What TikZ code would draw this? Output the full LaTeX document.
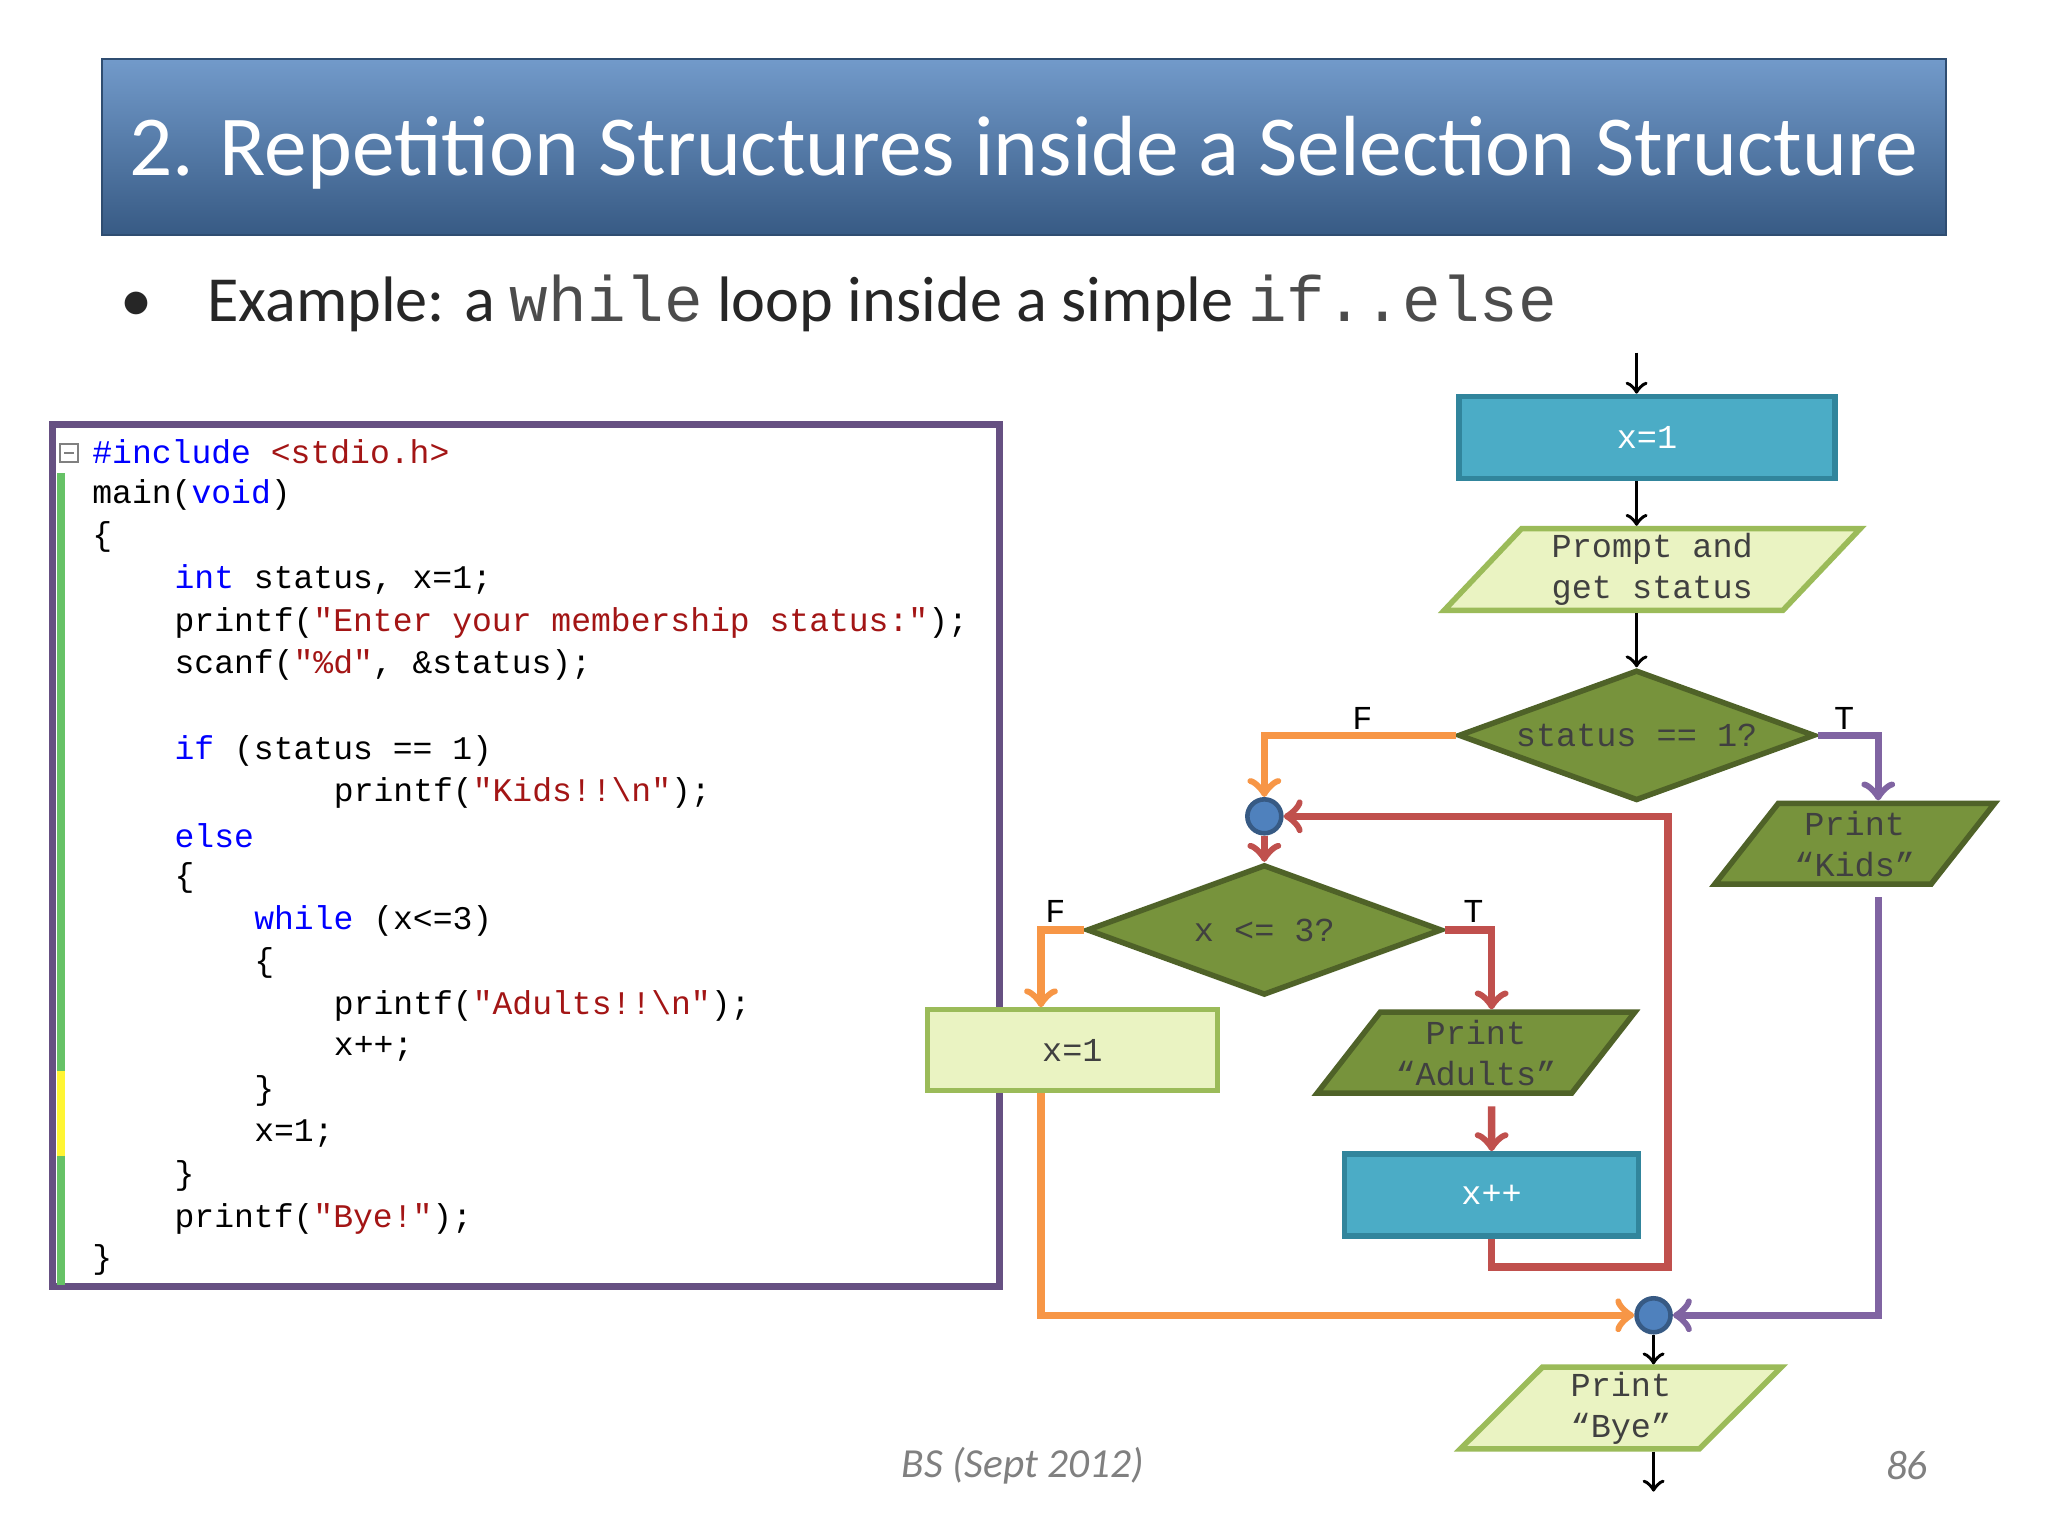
\documentclass[tikz,border=0pt]{standalone}
\usepackage{fontspec}
\setmainfont{Carlito}
\newfontfamily\codefont{Liberation Mono}
\usetikzlibrary{shapes.geometric}
\definecolor{kwblue}{HTML}{0000FF}
\definecolor{strred}{HTML}{A31515}
\definecolor{tealfill}{HTML}{4BACC6}
\definecolor{tealline}{HTML}{31859C}
\definecolor{olivefill}{HTML}{77933C}
\definecolor{oliveline}{HTML}{4F6228}
\definecolor{lightfill}{HTML}{EAF3C2}
\definecolor{lightline}{HTML}{9BBB59}
\definecolor{orangeln}{HTML}{F79646}
\definecolor{redln}{HTML}{C0504D}
\definecolor{purpleln}{HTML}{8064A2}
\definecolor{connfill}{HTML}{4F81BD}
\newcommand\kw[1]{\textcolor{kwblue}{#1}}
\newcommand\st[1]{\textcolor{strred}{#1}}
\tikzset{
  code/.style={anchor=west, inner sep=0pt, font=\codefont\fontsize{7.2pt}{8pt}\selectfont},
  chart/.style={align=center, font=\codefont\fontsize{7.3pt}{9pt}\selectfont, text=black!75},
  proc/.style={chart, draw=tealline, line width=1.2pt, fill=tealfill, text=white, minimum height=0.63cm},
  lproc/.style={chart, draw=lightline, line width=1pt, fill=lightfill, minimum height=0.62cm},
  io/.style={chart, trapezium, trapezium left angle=50, trapezium right angle=130, trapezium stretches=true, line width=1.2pt, minimum height=0.62cm, inner ysep=1pt},
  lio/.style={io, draw=lightline, fill=lightfill},
  dio/.style={io, draw=oliveline, fill=olivefill},
  dec/.style={chart, diamond, draw=oliveline, line width=1.2pt, fill=olivefill, aspect=2.7, inner sep=0pt},
  conn/.style={circle, draw=connfill!70!black, fill=connfill, line width=1pt, minimum size=0.26cm, inner sep=0pt},
  tf/.style={font=\codefont\fontsize{7.3pt}{8pt}\selectfont, inner sep=0pt},
  blk/.style={->, >=to, thick},
  oarr/.style={->, >=to, line width=1.6pt, draw=orangeln},
  rarr/.style={->, >=to, line width=1.6pt, draw=redln},
  parr/.style={->, >=to, line width=1.6pt, draw=purpleln},
}
\begin{document}
\begin{tikzpicture}
\useasboundingbox (0,0) rectangle (15.68,-11.76);
\fill[white] (0,0) rectangle (15.68,-11.76);

% Title bar and bullet
\shade[top color=connfill!80!white, bottom color=connfill!70!black, draw=connfill!60!black]
  (0.78,-0.45) rectangle (14.90,-1.80);
\node (title) at (7.84,-1.17) {\color{white}\fontsize{18.6pt}{20pt}\selectfont 2. Repetition Structures inside a Selection Structure};
\node[anchor=west] (bullet) at (0.80,-2.32) {\color{black!85}\fontsize{14pt}{16pt}\selectfont \textbullet\hspace{0.85em}Example: a {\codefont\color{black!70} while} loop inside a simple {\codefont\color{black!70} if..else}};

% Code box
\draw[line width=1.5pt, draw=purpleln!80!black] (0.40,-3.25) rectangle (7.65,-9.85);
\fill[green!60!black!60] (0.44,-3.62) rectangle (0.50,-9.84);
\fill[yellow!80] (0.44,-8.20) rectangle (0.50,-8.85);
\draw[gray, thin] (0.46,-3.40) rectangle (0.60,-3.54);
\draw[gray, thin] (0.49,-3.47) -- (0.57,-3.47);
\node[code] (l1) at (0.70,-3.46) {\kw{\#include} \st{<stdio.h>}};
\node[code] (l2) at (0.70,-3.79) {main(\kw{void})};
\node[code] (l3) at (0.70,-4.11) {\{};
\node[code] (l4) at (1.33,-4.44) {\kw{int} status, x=1;};
\node[code] (l5) at (1.33,-4.77) {printf(\st{"Enter your membership status:"});};
\node[code] (l6) at (1.33,-5.09) {scanf(\st{"\%d"}, \&status);};
\node[code] (l7) at (1.33,-5.75) {\kw{if} (status == 1)};
\node[code] (l8) at (2.55,-6.07) {printf(\st{"Kids!!\textbackslash n"});};
\node[code] (l9) at (1.33,-6.40) {\kw{else}};
\node[code] (l10) at (1.33,-6.72) {\{};
\node[code] (l11) at (1.94,-7.05) {\kw{while} (x<=3)};
\node[code] (l12) at (1.94,-7.37) {\{};
\node[code] (l13) at (2.55,-7.70) {printf(\st{"Adults!!\textbackslash n"});};
\node[code] (l14) at (2.55,-8.03) {x++;};
\node[code] (l15) at (1.94,-8.35) {\}};
\node[code] (l16) at (1.94,-8.68) {x=1;};
\node[code] (l17) at (1.33,-9.00) {\}};
\node[code] (l18) at (1.33,-9.33) {printf(\st{"Bye!"});};
\node[code] (l19) at (0.70,-9.65) {\}};

% Flowchart nodes
\coordinate (start) at (12.53,-2.70);
\node[proc, minimum width=2.88cm] (x1a) at (12.61,-3.35) {x=1};
\node[lio, minimum width=3.20cm] (prompt) at (12.65,-4.36) {Prompt and\\get status};
\node[dec, minimum width=2.73cm, minimum height=1.00cm] (dec1) at (12.53,-5.63) {status == 1?};
\node[dio, minimum width=2.15cm] (kids) at (14.20,-6.46) {Print\\“Kids”};
\node[conn] (c1) at (9.68,-6.25) {};
\node[dec, minimum width=2.72cm, minimum height=1.00cm] (dec2) at (9.68,-7.12) {x <= 3?};
\node[lproc, minimum width=2.22cm] (x1b) at (8.21,-8.04) {x=1};
\node[dio, minimum width=1.95cm] (adults) at (11.30,-8.06) {Print\\“Adults”};
\node[proc, minimum width=2.25cm] (inc) at (11.42,-9.15) {x++};
\node[conn] (c2) at (12.66,-10.07) {};
\node[lio, minimum width=2.46cm] (bye) at (12.41,-10.78) {Print\\“Bye”};
\coordinate (stop) at (12.66,-11.42);
\coordinate (back) at (12.77,-9.70);

% Connectors
\draw[blk] (start) -- (x1a.north -| start);
\draw[blk] (x1a.south -| start) -- (prompt.north -| start);
\draw[blk] (prompt.south -| start) -- (dec1.north);
\draw[oarr] (dec1.west) -| (c1.north);
\draw[parr] (dec1.east) -| ([xshift=0.18cm]kids.north);
\draw[rarr] (c1.south) -- (dec2.north);
\draw[oarr] (dec2.west) -| ([xshift=-0.24cm]x1b.north);
\draw[rarr] (dec2.east) -| ([xshift=0.12cm]adults.north);
\draw[rarr] ([xshift=0.12cm, yshift=-0.08cm]adults.south) -- ([xshift=0cm]inc.north);
\draw[rarr] (inc.south) |- (back) -- (back |- c1) -- (c1.east);
\draw[oarr] ([xshift=-0.24cm]x1b.south) |- (c2.west);
\draw[parr] ([xshift=0.18cm, yshift=-0.08cm]kids.south) |- (c2.east);
\draw[blk] (c2.south) -- (bye.north -| c2);
\draw[blk] (bye.south -| c2) -- (stop);

% Branch labels
\node[tf] (f1) at (10.43,-5.50) {F};
\node[tf] (t1) at (14.12,-5.50) {T};
\node[tf] (f2) at (8.08,-6.98) {F};
\node[tf] (t2) at (11.28,-6.98) {T};

% Footer
\node[text=gray] (foot) at (7.83,-11.22) {\fontsize{9pt}{11pt}\selectfont\itshape BS (Sept 2012)};
\node[text=gray] (page) at (14.60,-11.22) {\fontsize{9pt}{11pt}\selectfont\itshape 86};
\end{tikzpicture}
\end{document}
